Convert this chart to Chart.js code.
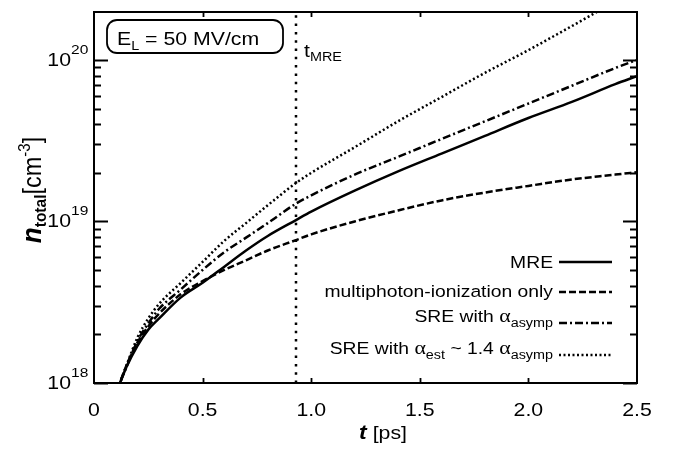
<!DOCTYPE html>
<html>
<head>
<meta charset="utf-8">
<script src="https://cdn.jsdelivr.net/npm/chart.js@4.4.1/dist/chart.umd.min.js"></script>
<style>
  html, body { margin: 0; padding: 0; background: #fff; }
  canvas { display: block; }
</style>
</head>
<body>
<canvas id="densityChart" width="673" height="449"></canvas>
<script>
// time axis (ps) and electron densities (cm^-3)
const timePs = [0.10, 0.12, 0.15, 0.2, 0.25, 0.3, 0.4, 0.5, 0.6, 0.7, 0.8, 0.93, 1.0, 1.2, 1.4, 1.6, 1.8, 2.0, 2.2, 2.4, 2.5];
const mre = [7.9e17, 1.0e18, 1.26e18, 1.70e18, 2.14e18, 2.51e18, 3.39e18, 4.17e18, 5.25e18, 6.61e18, 8.13e18, 1.02e19, 1.15e19, 1.55e19, 2.04e19, 2.63e19, 3.39e19, 4.37e19, 5.50e19, 7.08e19, 7.94e19];
const mpiOnly = [7.9e17, 1.0e18, 1.29e18, 1.78e18, 2.24e18, 2.69e18, 3.55e18, 4.27e18, 5.01e18, 5.75e18, 6.61e18, 7.67e18, 8.32e18, 1.0e19, 1.17e19, 1.35e19, 1.51e19, 1.66e19, 1.82e19, 1.95e19, 2.02e19];
const sreAsymp = [8.3e17, 1.0e18, 1.26e18, 1.82e18, 2.34e18, 2.88e18, 3.80e18, 5.01e18, 6.46e18, 7.94e18, 9.77e18, 1.29e19, 1.45e19, 1.95e19, 2.51e19, 3.24e19, 4.17e19, 5.37e19, 6.92e19, 8.91e19, 1.0e20];
const sreEst = [8.3e17, 1.0e18, 1.29e18, 1.91e18, 2.51e18, 3.09e18, 4.17e18, 5.62e18, 7.59e18, 9.77e18, 1.26e19, 1.73e19, 2.0e19, 2.88e19, 4.17e19, 5.89e19, 8.32e19, 1.15e20, 1.62e20, 2.29e20, 2.69e20];
const tMre = 0.93;

const xTickValues = [0, 0.5, 1.0, 1.5, 2.0, 2.5];
const xTickLabels = ['0', '0.5', '1.0', '1.5', '2.0', '2.5'];
const yDecades = [18, 19, 20];
const yMin = 1e18;
const yMax = 1.98e20;

const SX = 1.15; // the original figure is a bit stretched horizontally
const SANS = '"Liberation Sans", Arial, sans-serif';
const SERIF = '"Liberation Serif", serif';
const f = (size, style) => (style ? style + ' ' : '') + size + 'px ' + SANS;

const dashes = {
    solid: [],
    dashed: [7, 3],
    dashdot: [8, 3, 2, 3],
    dotted: [2, 2.5]
};

function runsWidth(ctx, runs) {
    let w = 0;
    for (const r of runs) { ctx.font = r.font; w += ctx.measureText(r.text).width; }
    return w;
}

function drawRuns(ctx, runs, x, y, align) {
    const w = runsWidth(ctx, runs) * SX;
    const left = align === 'right' ? x - w : align === 'center' ? x - w / 2 : x;
    ctx.save();
    ctx.translate(left, y);
    ctx.scale(SX, 1);
    ctx.textAlign = 'left';
    ctx.textBaseline = 'alphabetic';
    let cx = 0;
    for (const r of runs) {
        ctx.font = r.font;
        ctx.fillText(r.text, cx, r.dy || 0);
        cx += ctx.measureText(r.text).width;
    }
    ctx.restore();
}

const alpha = { text: 'α', font: '19px ' + SERIF };
const legendRows = [
    { runs: [{ text: 'MRE', font: f(16.8) }], dash: dashes.solid, y: 262, base: 268 },
    { runs: [{ text: 'multiphoton-ionization only', font: f(16.8) }], dash: dashes.dashed, y: 292, base: 297 },
    { runs: [{ text: 'SRE with ', font: f(16.8) }, alpha, { text: 'asymp', font: f(12.5), dy: 5 }], dash: dashes.dashdot, y: 323, base: 322 },
    { runs: [{ text: 'SRE with ', font: f(16.8) }, alpha, { text: 'est', font: f(12.5), dy: 5 },
             { text: ' ~ 1.4 ', font: f(16.8) }, alpha, { text: 'asymp', font: f(12.5), dy: 5 }], dash: dashes.dotted, y: 355, base: 354 }
];

const decorations = {
    id: 'decorations',
    beforeDraw(chart) {
        const ctx = chart.ctx;
        ctx.save();
        ctx.fillStyle = '#fff';
        ctx.fillRect(0, 0, chart.width, chart.height);
        ctx.restore();
    },
    afterDatasetsDraw(chart) {
        const ctx = chart.ctx;
        const a = chart.chartArea;
        const xs = chart.scales.x;
        const ys = chart.scales.y;
        ctx.save();
        ctx.strokeStyle = '#000';
        ctx.fillStyle = '#000';
        ctx.setLineDash([]);

        // frame
        ctx.lineWidth = 2;
        ctx.strokeRect(a.left, a.top, a.right - a.left, a.bottom - a.top);

        // y ticks (major + minor), both sides, pointing inward
        ctx.lineWidth = 1.8;
        ctx.beginPath();
        for (const e of yDecades) {
            for (let m = 1; m <= 9; m++) {
                const v = m * Math.pow(10, e);
                if (v < yMin || v > yMax) continue;
                const py = Math.round(ys.getPixelForValue(v)) + 0.5;
                const len = m === 1 ? 14 : 7;
                ctx.moveTo(a.left, py); ctx.lineTo(a.left + len, py);
                ctx.moveTo(a.right, py); ctx.lineTo(a.right - len, py);
            }
        }
        // x ticks, top and bottom
        for (const v of xTickValues) {
            if (v === 0 || v === 2.5) continue;
            const px = Math.round(xs.getPixelForValue(v)) + 0.5;
            ctx.moveTo(px, a.bottom); ctx.lineTo(px, a.bottom - 5);
            ctx.moveTo(px, a.top); ctx.lineTo(px, a.top + 5);
        }
        ctx.stroke();

        // x tick labels
        xTickValues.forEach((v, i) => {
            drawRuns(ctx, [{ text: xTickLabels[i], font: f(18.5) }], xs.getPixelForValue(v), a.bottom + 33, 'center');
        });

        // y tick labels 10^n
        for (const e of yDecades) {
            const py = ys.getPixelForValue(Math.pow(10, e));
            drawRuns(ctx, [{ text: '10', font: f(18.5) }], 71, py + 6, 'right');
            drawRuns(ctx, [{ text: String(e), font: f(13.5) }], 71, py - 6, 'left');
        }

        // x axis title
        drawRuns(ctx, [{ text: 't', font: f(20, 'italic bold') }, { text: ' [ps]', font: f(18.5) }], 383, 439, 'center');

        // y axis title (rotated)
        const yRuns = [
            { text: 'n', font: f(26, 'italic bold') },
            { text: 'total', font: f(15.5, 'bold'), dy: 5 },
            { text: '[cm', font: f(23.5) },
            { text: '-3', font: f(15), dy: -10 },
            { text: ']', font: f(23.5) }
        ];
        ctx.save();
        ctx.translate(41, 190);
        ctx.scale(SX * 0.92, 1);
        ctx.rotate(-Math.PI / 2);
        let cx = -runsWidth(ctx, yRuns) / 2;
        for (const r of yRuns) {
            ctx.font = r.font;
            ctx.fillText(r.text, cx, r.dy || 0);
            cx += ctx.measureText(r.text).width;
        }
        ctx.restore();

        // field strength box
        ctx.lineWidth = 1.8;
        ctx.beginPath();
        ctx.roundRect(107, 20, 176, 33, 10);
        ctx.stroke();
        drawRuns(ctx, [{ text: 'E', font: f(18.5) }, { text: 'L', font: f(12.5), dy: 5 },
                       { text: ' = 50 MV/cm', font: f(18.5) }], 117, 45, 'left');

        // t_MRE label
        drawRuns(ctx, [{ text: 't', font: f(18.5) }, { text: 'MRE', font: f(12.5), dy: 4 }],
                 xs.getPixelForValue(tMre) + 8, 57, 'left');

        // legend
        for (const row of legendRows) {
            drawRuns(ctx, row.runs, 553, row.base, 'right');
            ctx.setLineDash(row.dash);
            ctx.lineWidth = 2.5;
            ctx.beginPath();
            ctx.moveTo(559, row.y);
            ctx.lineTo(612, row.y);
            ctx.stroke();
        }
        ctx.restore();
    }
};

const toPoints = (vals) => timePs.map((t, i) => ({ x: t, y: vals[i] }));
const lineStyle = (dash) => ({
    borderColor: '#000',
    borderWidth: 2.5,
    borderDash: dash,
    pointRadius: 0,
    fill: false,
    cubicInterpolationMode: 'monotone',
    clip: 0
});

new Chart(document.getElementById('densityChart').getContext('2d'), {
    type: 'line',
    data: {
        datasets: [
            { label: 'MRE', data: toPoints(mre), ...lineStyle(dashes.solid) },
            { label: 'multiphoton-ionization only', data: toPoints(mpiOnly), ...lineStyle(dashes.dashed) },
            { label: 'SRE with alpha_asymp', data: toPoints(sreAsymp), ...lineStyle(dashes.dashdot) },
            { label: 'SRE with alpha_est ~ 1.4 alpha_asymp', data: toPoints(sreEst), ...lineStyle(dashes.dotted) },
            {
                label: 't_MRE',
                data: [{ x: tMre, y: yMin }, { x: tMre, y: yMax }],
                borderColor: '#000',
                borderWidth: 2.5,
                borderDash: [2.5, 5.8],
                pointRadius: 0,
                clip: 0
            }
        ]
    },
    options: {
        responsive: false,
        animation: false,
        devicePixelRatio: 1,
        layout: { padding: { left: 94, right: 36, top: 12, bottom: 66 } },
        scales: {
            x: { type: 'linear', min: 0, max: 2.5, display: false },
            y: { type: 'logarithmic', min: yMin, max: yMax, display: false }
        },
        plugins: {
            legend: { display: false },
            tooltip: { enabled: false }
        }
    },
    plugins: [decorations]
});
</script>
</body>
</html>
